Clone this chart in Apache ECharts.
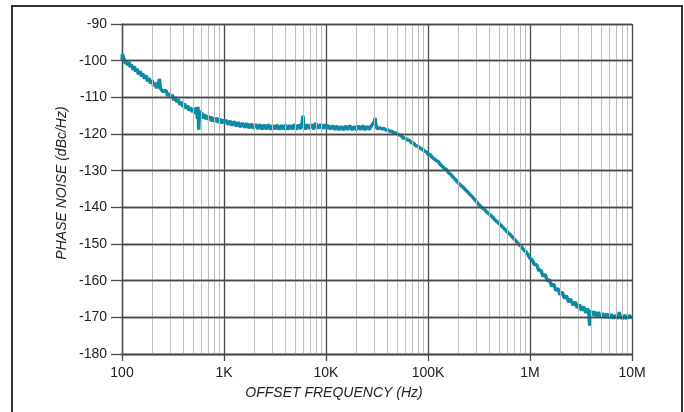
<!DOCTYPE html>
<html>
<head>
<meta charset="utf-8">
<script src="https://cdn.jsdelivr.net/npm/echarts@6/dist/echarts.min.js"></script>
<style>
  html, body { margin: 0; padding: 0; background: #fff; }
  #chart { width: 684px; height: 412px; }
</style>
</head>
<body>
<div id="chart"></div>
<script>
// offset frequency (Hz) / phase noise (dBc/Hz)
const trace100 = [
    [100,-99.8],[101,-98.2],[102,-97.7],[104,-99.3],[106,-99.9],[108,-100.9],[111,-100.0],[114,-101.3],
    [117,-100.3],[120,-101.8],[124,-101.0],[128,-102.5],[132,-101.6],[136,-103.0],[140,-102.2],[145,-103.7],
    [150,-102.8],[155,-104.3],[160,-103.5],[166,-104.9],[172,-104.0],[178,-105.6],[184,-104.7],[190,-106.2],
    [197,-105.3],[204,-106.9],[211,-106.0],[218,-107.5],[226,-106.6],[233,-105.0],[238,-107.6],[245,-107.5],
    [253,-108.5],[262,-108.9],[271,-108.1],[280,-109.6],[290,-108.8],[300,-110.1],[311,-109.3],[322,-110.8],
    [333,-109.9],[345,-111.3],[357,-110.5],[370,-112.1],[383,-111.2],[396,-112.6],[410,-111.7],[425,-113.1],
    [440,-112.2],[455,-113.6],[470,-112.7],[487,-114.0],[505,-113.1],[520,-114.5],[535,-112.7],[548,-115.9],
    [556,-112.6],[565,-118.8],[575,-113.6],[590,-115.5],[605,-114.2],[625,-115.8],[645,-114.6],[668,-116.0],
    [690,-115.0],[715,-116.2],[740,-115.2],[765,-116.6],[790,-115.5],[820,-116.7],[850,-115.6],[880,-116.9],
    [910,-115.8],[945,-117.1],[980,-116.0]
];
const trace1k = [
    [1000,-116.9],[1050,-116.2],[1100,-117.5],[1150,-116.4],[1200,-117.7],[1260,-116.6],[1320,-117.9],[1380,-116.8],
    [1450,-118.1],[1520,-117.0],[1600,-118.2],[1680,-117.1],[1760,-118.4],[1850,-117.2],[1940,-118.5],[2040,-117.3],
    [2140,-118.6],[2250,-117.4],[2360,-118.7],[2480,-117.5],[2600,-118.7],[2730,-117.4],[2870,-118.8],[3010,-117.6],
    [3160,-118.7],[3320,-117.5],[3480,-118.8],[3650,-117.6],[3830,-118.7],[4020,-117.5],[4220,-118.8],[4430,-117.6],
    [4650,-118.7],[4880,-117.4],[5120,-118.8],[5380,-117.5],[5650,-118.6],[5850,-116.6],[5950,-115.0],[6050,-117.9],
    [6250,-118.7],[6550,-117.4],[6880,-118.6],[7220,-117.3],[7580,-118.7],[7900,-117.0],[8150,-116.7],[8400,-118.5],
    [8800,-117.3],[9200,-118.6],[9600,-117.4]
];
const trace10k = [
    [10000,-118.5],[10500,-117.6],[11000,-118.7],[11600,-117.7],[12200,-118.8],[12800,-117.8],[13400,-118.9],[14100,-117.9],
    [14800,-118.9],[15500,-117.8],[16300,-118.8],[17100,-117.7],[18000,-118.9],[18900,-117.9],[19800,-118.9],[20800,-117.8],
    [21800,-118.8],[22900,-117.7],[24000,-118.9],[25200,-117.9],[26500,-118.8],[27800,-117.8],[29000,-117.6],[29800,-116.6],
    [30300,-115.6],[30800,-117.4],[31800,-118.6],[33400,-118.3],[35000,-118.6],[36800,-118.5],[38600,-118.9],[40500,-118.9],
    [42500,-119.3],[44600,-119.3],[46800,-119.8],[49100,-119.7],[51600,-120.2],[54100,-120.3],[56800,-121.1],[59600,-121.1],
    [62600,-121.6],[65700,-121.7],[69000,-122.4],[72400,-122.5],[76000,-123.2],[79800,-123.3],[83700,-123.9],[87900,-124.1],
    [92300,-124.7],[96900,-124.9]
];
const trace100k = [
    [100000,-125.6],[105000,-125.6],[110000,-126.4],[115000,-126.6],[120000,-127.2],[126000,-127.5],[132000,-128.3],[138000,-128.6],
    [145000,-129.4],[152000,-129.7],[159000,-130.6],[167000,-131.0],[175000,-131.7],[184000,-132.3],[193000,-133.0],[202000,-133.6],
    [212000,-134.1],[222000,-134.6],[233000,-135.2],[245000,-135.8],[257000,-136.5],[270000,-137.0],[283000,-137.7],[297000,-138.4],
    [312000,-139.1],[327000,-139.7],[343000,-140.2],[360000,-140.7],[378000,-141.3],[397000,-141.8],[417000,-142.3],[437000,-142.9],
    [459000,-143.6],[482000,-144.0],[506000,-144.6],[531000,-145.2],[557000,-145.8],[585000,-146.4],[614000,-147.0],[645000,-147.5],
    [677000,-148.2],[710000,-148.8],[745000,-149.5],[782000,-150.2],[821000,-150.7],[862000,-151.5],[905000,-152.0],[950000,-152.8]
];
const trace1M = [
    [1000000,-153.9],[1050000,-154.3],[1100000,-155.6],[1160000,-155.6],[1220000,-157.3],[1280000,-157.1],[1340000,-158.8],[1410000,-158.3],
    [1480000,-160.1],[1550000,-159.7],[1630000,-161.5],[1710000,-160.9],[1790000,-162.7],[1880000,-162.1],[1970000,-163.8],[2070000,-163.1],
    [2170000,-164.8],[2280000,-164.1],[2390000,-165.8],[2510000,-165.0],[2640000,-166.7],[2770000,-165.8],[2910000,-167.4],[3050000,-166.5],
    [3200000,-168.1],[3360000,-167.1],[3530000,-168.8],[3680000,-167.6],[3780000,-169.2],[3840000,-172.3],[3900000,-168.1],[4050000,-169.5],
    [4250000,-168.4],[4460000,-169.7],[4680000,-168.6],[4910000,-169.9],[5160000,-168.9],[5420000,-170.1],[5690000,-169.0],[5970000,-170.2],
    [6270000,-169.2],[6580000,-170.3],[6900000,-169.4],[7250000,-170.4],[7500000,-168.6],[7700000,-169.9],[8100000,-170.4],[8500000,-169.4],
    [8900000,-170.4],[9400000,-169.5],[10000000,-170.2]
];
const phaseNoise = trace100.concat(trace1k, trace10k, trace100k, trace1M);

const decades = [100, 1000, 10000, 100000, 1000000];
const minorSteps = [2, 3, 4, 5, 6, 7, 8, 9];
const xTickLabels = ['100', '1K', '10K', '100K', '1M', '10M'];
const yTicks = [-90, -100, -110, -120, -130, -140, -150, -160, -170, -180];

const FONT = '"Liberation Sans", Arial, sans-serif';
const DARK = '#4a4a4a';

const minorLines = [];
decades.forEach(d => minorSteps.forEach(m => minorLines.push({ xAxis: d * m })));

const chart = echarts.init(document.getElementById('chart'));

const option = {
    backgroundColor: '#fff',
    animation: false,
    grid: { left: 122, top: 24, width: 510, height: 330 },
    xAxis: {
        type: 'log',
        logBase: 10,
        min: 100,
        max: 10000000,
        interval: 1,
        axisLine: { lineStyle: { color: DARK, width: 1.3 } },
        axisTick: { show: true, length: 7, lineStyle: { color: DARK, width: 1.3 } },
        axisLabel: {
            margin: 12,
            color: '#222',
            fontSize: 14,
            fontFamily: FONT,
            formatter: v => xTickLabels[Math.round(Math.log10(v)) - 2]
        },
        splitLine: { show: true, lineStyle: { color: DARK, width: 1.3 } }
    },
    yAxis: {
        type: 'value',
        min: -180,
        max: -90,
        interval: 10,
        axisLine: { lineStyle: { color: DARK, width: 1.3 } },
        axisTick: { show: true, length: 11, lineStyle: { color: DARK, width: 1.3 } },
        axisLabel: { margin: 15, color: '#222', fontSize: 14, fontFamily: FONT },
        splitLine: { show: true, lineStyle: { color: DARK, width: 1.3 } }
    },
    series: [
        {
            // minor decade grid
            type: 'line',
            data: [],
            z: 1,
            silent: true,
            markLine: {
                silent: true,
                symbol: 'none',
                label: { show: false },
                lineStyle: { color: '#bdbdbd', width: 1, type: 'solid' },
                data: minorLines
            }
        },
        {
            // major horizontal lines drawn again on top of the minor ones
            type: 'line',
            data: [],
            z: 2,
            silent: true,
            markLine: {
                silent: true,
                symbol: 'none',
                label: { show: false },
                lineStyle: { color: DARK, width: 1.3, type: 'solid' },
                data: yTicks.map(v => ({ yAxis: v }))
            }
        },
        {
            type: 'line',
            data: phaseNoise,
            z: 3,
            showSymbol: false,
            lineStyle: { color: '#0e8aa5', width: 3.4, join: 'bevel' }
        }
    ],
    graphic: [
        {
            type: 'rect',
            shape: { x: 12, y: 6, width: 670, height: 430 },
            style: { fill: 'none', stroke: '#333', lineWidth: 2 }
        },
        {
            type: 'text',
            x: 334, y: 393,
            style: {
                text: 'OFFSET FREQUENCY (Hz)',
                font: 'italic 14px ' + FONT,
                fill: '#222',
                textAlign: 'center',
                textVerticalAlign: 'middle'
            }
        },
        {
            type: 'text',
            x: 62, y: 183,
            rotation: Math.PI / 2,
            style: {
                text: 'PHASE NOISE (dBc/Hz)',
                font: 'italic 14px ' + FONT,
                fill: '#222',
                textAlign: 'center',
                textVerticalAlign: 'middle'
            }
        }
    ]
};
chart.setOption(option);

window.addEventListener('resize', function() {
    chart.resize();
});
</script>
</body>
</html>
